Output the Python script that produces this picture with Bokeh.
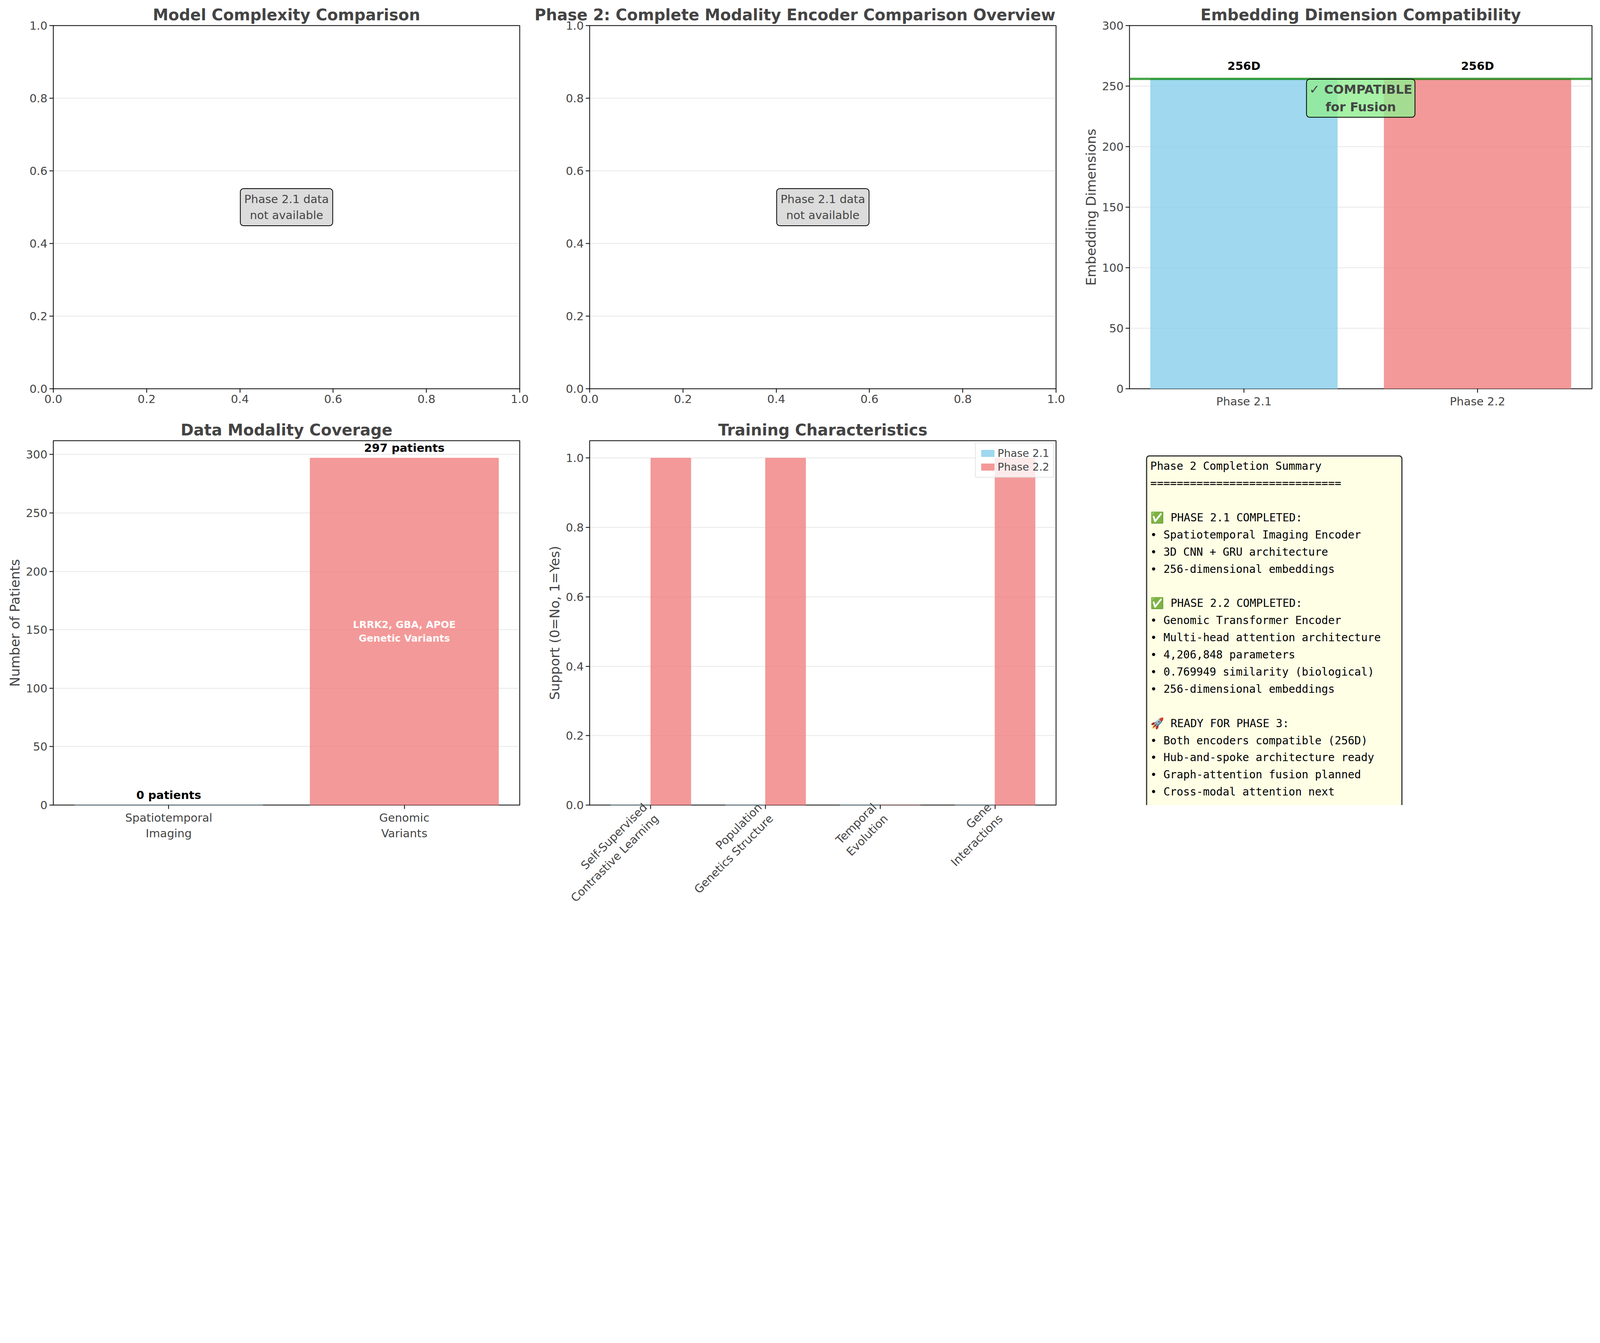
from bokeh.plotting import figure
from bokeh.layouts import gridplot
from bokeh.models import Range1d, Label, FixedTicker, Span, Legend, LegendItem, PrintfTickFormatter
from bokeh.core.properties import value
from bokeh.embed import file_html
from bokeh.resources import INLINE
import numpy as np

# data
phases = ["Phase 2.1", "Phase 2.2"]
embed_dims = [256, 256]
modalities = ["Spatiotemporal\nImaging", "Genomic\nVariants"]
patients = [0, 297]
features = ["Self-Supervised\nContrastive Learning", "Population\nGenetics Structure",
            "Temporal\nEvolution", "Gene\nInteractions"]
support_21 = [0, 0, 0, 0]
support_22 = [1, 1, 0, 1]
summary_lines = [
    "Phase 2 Completion Summary",
    "=============================",
    "",
    "✅ PHASE 2.1 COMPLETED:",
    "• Spatiotemporal Imaging Encoder",
    "• 3D CNN + GRU architecture",
    "• 256-dimensional embeddings",
    "",
    "✅ PHASE 2.2 COMPLETED:",
    "• Genomic Transformer Encoder",
    "• Multi-head attention architecture",
    "• 4,206,848 parameters",
    "• 0.769949 similarity (biological)",
    "• 256-dimensional embeddings",
    "",
    "🚀 READY FOR PHASE 3:",
    "• Both encoders compatible (256D)",
    "• Hub-and-spoke architecture ready",
    "• Graph-attention fusion planned",
    "• Cross-modal attention next",
    "",
    "🎯 NEXT STEPS:",
    "1. Upgrade to Graph Attention Network",
    "2. Implement cross-modal attention",
    "3. Multimodal fusion integration",
    "4. Comprehensive validation",
]

BLUE = "#87CEEB"
RED = "#F08080"
FONT = "DejaVu Sans"

# the page is drawn at about 1.455 device pixels per css pixel
S = 4096 / 5959


def px(v):
    return int(round(v * S))


def fs(v):
    return f"{px(v)}px"


# (width, left border, right border) per column, (height, top, bottom) per row, in screen pixels
COLS = [(1980, 198, 45), (2050, 216, 97), (1906, 161, 8)]
ROWS = [(1545, 95, 98), (1871, 96, 418)]


def make(col, row, title, xr, yr):
    w, l, r = COLS[col]
    h, t, b = ROWS[row]
    p = figure(width=px(w), height=px(h), x_range=xr, y_range=yr, title=title,
               output_backend="svg", toolbar_location=None,
               min_border_left=px(l), min_border_right=px(r), min_border_top=px(t), min_border_bottom=px(b))
    p.title.text_font = FONT
    p.title.text_font_size = fs(58)
    p.title.align = "center"
    p.outline_line_color = "black"
    p.outline_line_width = px(3)
    p.xgrid.visible = False
    p.ygrid.grid_line_color = "#b0b0b0"
    p.ygrid.grid_line_alpha = 0.3
    p.ygrid.grid_line_width = px(3)
    for ax in (p.xaxis, p.yaxis):
        ax.major_label_text_font = FONT
        ax.major_label_text_font_size = fs(42)
        ax.axis_label_text_font = FONT
        ax.axis_label_text_font_size = fs(50)
        ax.axis_label_text_font_style = "normal"
        ax.major_tick_out = px(14)
        ax.major_tick_in = 0
        ax.minor_tick_line_color = None
        ax.axis_line_color = None
        ax.major_tick_line_width = px(3)
    return p


def unit_axes(p):
    p.xaxis.ticker = FixedTicker(ticks=[0, 0.2, 0.4, 0.6, 0.8, 1.0])
    p.yaxis.ticker = FixedTicker(ticks=[0, 0.2, 0.4, 0.6, 0.8, 1.0])
    p.xaxis.formatter = PrintfTickFormatter(format="%.1f")
    p.yaxis.formatter = PrintfTickFormatter(format="%.1f")
    p.add_layout(Label(x=0.5, y=0.5, text="Phase 2.1 data\nnot available", text_align="center",
                       text_baseline="middle", text_font=FONT, text_font_size=fs(42),
                       background_fill_color="lightgray", background_fill_alpha=0.8,
                       border_line_color="black", border_line_width=px(3), padding=px(14),
                       border_radius=px(12)))


p1 = make(0, 0, "Model Complexity Comparison", Range1d(0, 1), Range1d(0, 1))
unit_axes(p1)
p2 = make(1, 0, "Phase 2: Complete Modality Encoder Comparison Overview", Range1d(0, 1), Range1d(0, 1))
p2.title.text_font_size = fs(58)
p2.title.align = "left"
p2.title.offset = -px(205)
unit_axes(p2)

# embedding dims
p3 = make(2, 0, "Embedding Dimension Compatibility", Range1d(-0.49, 1.49), Range1d(0, 300))
xs = np.arange(len(phases))
p3.vbar(x=xs, top=embed_dims, width=0.8, color=[BLUE, RED], alpha=0.8)
p3.add_layout(Span(location=256, dimension="width", line_color="green", line_width=px(9), line_alpha=0.7))
p3.text(x=xs, y=[d + 5 for d in embed_dims], text=[f"{d}D" for d in embed_dims], text_align="center",
        text_baseline="bottom", text_font=value(FONT), text_font_size=fs(42), text_font_style="bold")
p3.add_layout(Label(x=0.5, y=240, text="✓ COMPATIBLE\nfor Fusion", text_align="center",
                    text_baseline="middle", text_font=FONT, text_font_size=fs(46), text_font_style="bold",
                    background_fill_color="lightgreen", background_fill_alpha=0.8,
                    border_line_color="black", border_line_width=px(3), padding=px(10),
                    border_radius=px(12)))
p3.xaxis.ticker = FixedTicker(ticks=list(xs))
p3.xaxis.major_label_overrides = {int(i): s for i, s in zip(xs, phases)}
p3.yaxis.ticker = FixedTicker(ticks=[0, 50, 100, 150, 200, 250, 300])
p3.yaxis.axis_label = "Embedding Dimensions"

# modality coverage
p4 = make(0, 1, "Data Modality Coverage", Range1d(-0.49, 1.49), Range1d(0, 311.85))
p4.vbar(x=xs, top=patients, width=0.8, color=[BLUE, RED], alpha=0.8)
p4.text(x=xs, y=[v + 3 for v in patients], text=[f"{v} patients" for v in patients], text_align="center",
        text_baseline="bottom", text_font=value(FONT), text_font_size=fs(42), text_font_style="bold")
p4.text(x=[1], y=[patients[1] / 2], text=["LRRK2, GBA, APOE\nGenetic Variants"], text_align="center",
        text_baseline="middle", text_color="white", text_font=value(FONT), text_font_size=fs(36),
        text_font_style="bold", text_line_height=1.2)
p4.xaxis.ticker = FixedTicker(ticks=list(xs))
p4.xaxis.major_label_overrides = {int(i): s for i, s in zip(xs, modalities)}
p4.yaxis.ticker = FixedTicker(ticks=[0, 50, 100, 150, 200, 250, 300])
p4.yaxis.axis_label = "Number of Patients"

# training characteristics
p5 = make(1, 1, "Training Characteristics", Range1d(-0.5325, 3.5325), Range1d(0, 1.05))
fx = np.arange(len(features))
r21 = p5.vbar(x=fx - 0.175, top=support_21, width=0.35, color=BLUE, alpha=0.8)
r22 = p5.vbar(x=fx + 0.175, top=support_22, width=0.35, color=RED, alpha=0.8)
p5.xaxis.ticker = FixedTicker(ticks=list(fx))
p5.xaxis.major_label_overrides = {int(i): s for i, s in zip(fx, features)}
p5.xaxis.major_label_orientation = np.pi / 4
p5.yaxis.ticker = FixedTicker(ticks=[0, 0.2, 0.4, 0.6, 0.8, 1.0])
p5.yaxis.formatter = PrintfTickFormatter(format="%.1f")
p5.yaxis.axis_label = "Support (0=No, 1=Yes)"
leg = Legend(items=[LegendItem(label="Phase 2.1", renderers=[r21]),
                    LegendItem(label="Phase 2.2", renderers=[r22])],
             location="top_right", label_text_font=FONT, label_text_font_size=fs(40),
             glyph_width=px(60), glyph_height=px(30), border_line_color="#cccccc", border_line_width=px(3),
             background_fill_alpha=0.8, spacing=px(6), padding=px(14), margin=px(8))
p5.add_layout(leg)

# summary
p6 = make(2, 1, "", Range1d(0, 1), Range1d(-0.05, 1))
p6.axis.visible = False
p6.ygrid.visible = False
p6.outline_line_color = None
p6.quad(left=[0.037], right=[0.589], top=[0.956], bottom=[-0.07], fill_color="lightyellow",
        fill_alpha=0.8, line_color="#333333", line_width=px(4), border_radius=px(10))
p6.text(x=[0.045], y=[0.945], text=["\n".join(summary_lines)], text_align="left", text_baseline="top",
        text_font=value("DejaVu Sans Mono"), text_font_size=fs(41), text_line_height=1.33)

grid = gridplot([[p1, p2, p3], [p4, p5, p6]], toolbar_location=None)
open("out.html", "w").write(file_html(grid, INLINE))
